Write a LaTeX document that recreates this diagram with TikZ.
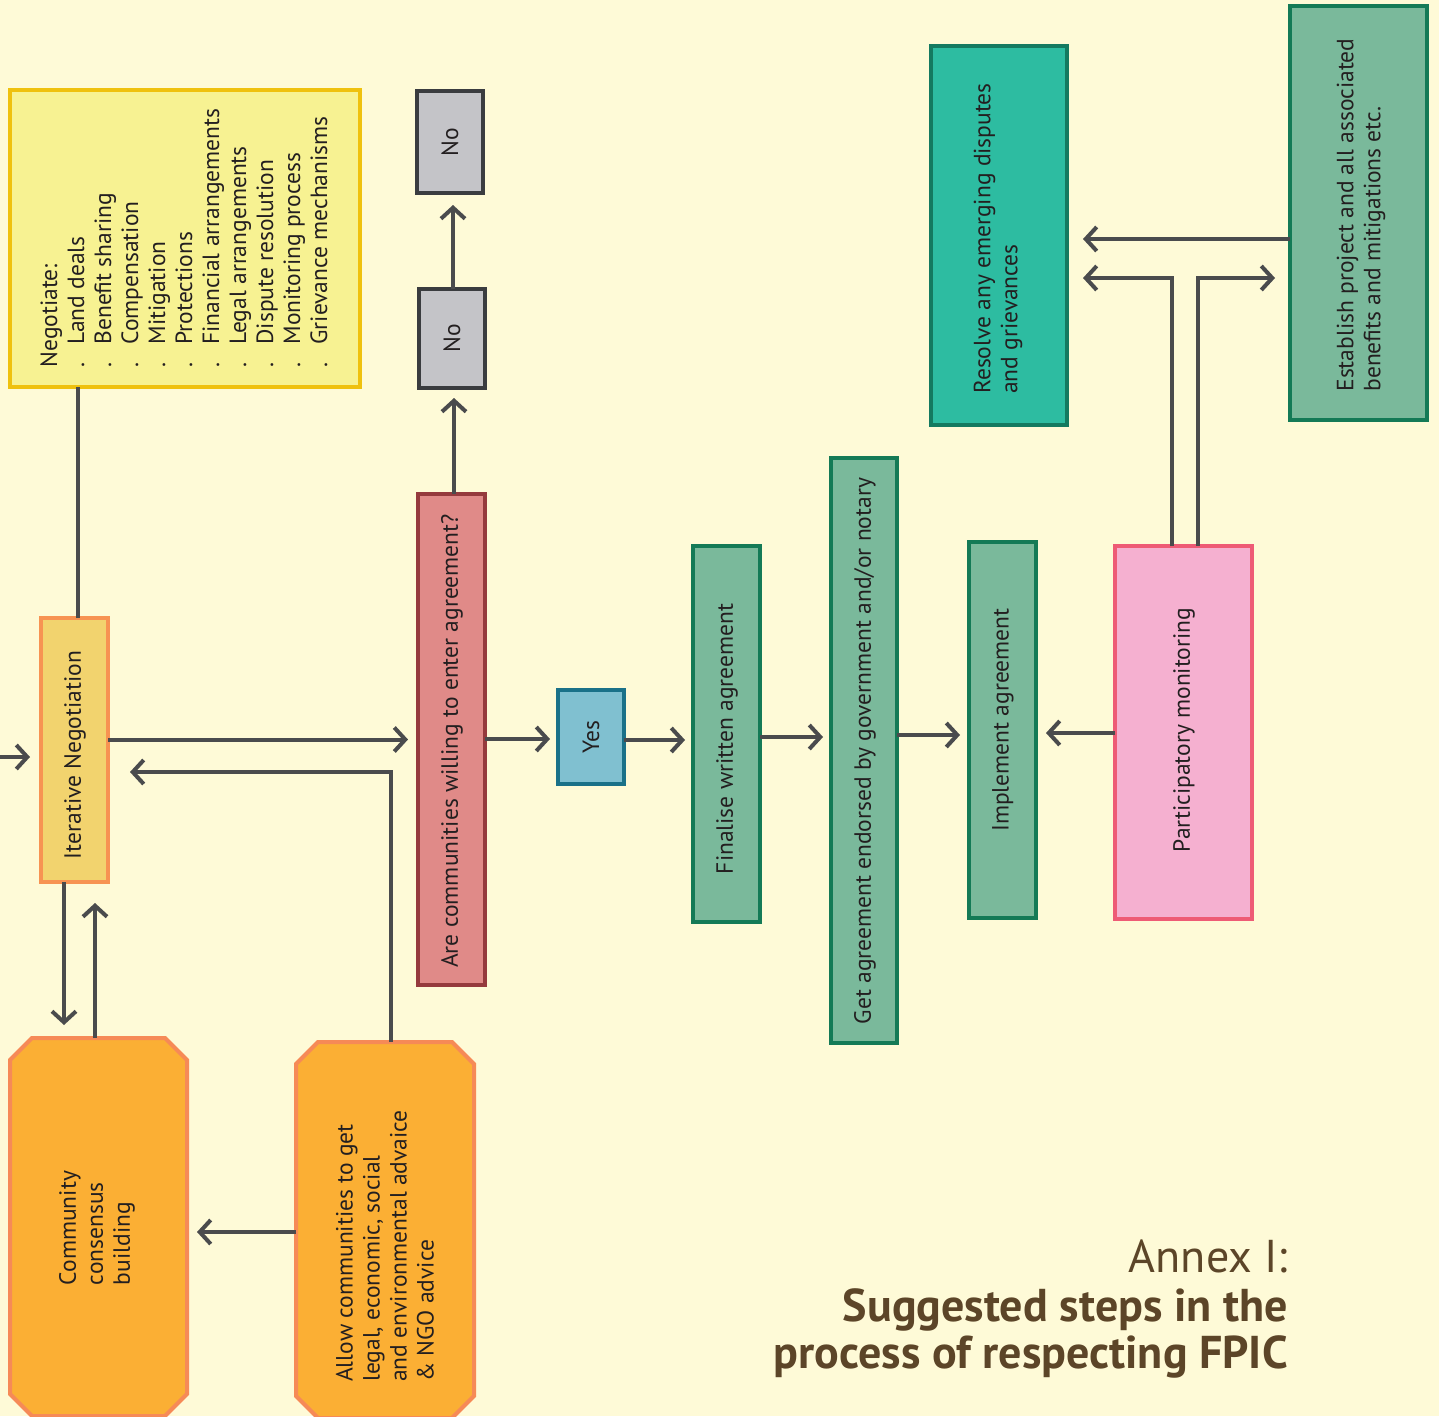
\documentclass[tikz,border=0pt]{standalone}
\usepackage{fontspec}
\setmainfont{PT Sans}
\usetikzlibrary{arrows.meta}
\definecolor{bg}{HTML}{FEFAD7}
\definecolor{linec}{HTML}{4A4B4D}
\definecolor{txtc}{HTML}{231F20}
\definecolor{negfill}{HTML}{F7F292}
\definecolor{negline}{HTML}{EFC10E}
\definecolor{itfill}{HTML}{F2D36E}
\definecolor{itline}{HTML}{F79352}
\definecolor{arefill}{HTML}{E08A88}
\definecolor{areline}{HTML}{953A3D}
\definecolor{nofill}{HTML}{C4C4C8}
\definecolor{noline}{HTML}{3A3C3F}
\definecolor{yesfill}{HTML}{80C0D0}
\definecolor{yesline}{HTML}{1A7188}
\definecolor{grfill}{HTML}{7AB99B}
\definecolor{grline}{HTML}{147A56}
\definecolor{resfill}{HTML}{2DBCA1}
\definecolor{resline}{HTML}{147A60}
\definecolor{pkfill}{HTML}{F5B0D0}
\definecolor{pkline}{HTML}{EE5B75}
\definecolor{orfill}{HTML}{FBAF34}
\definecolor{orline}{HTML}{F68A57}
\definecolor{titc}{HTML}{5C4528}
\newcommand\octpath[2]{%
  \filldraw[octst] ([xshift=#2]#1.north west) -- ([xshift=-#2]#1.north east)
   -- ([yshift=-#2]#1.north east) -- ([yshift=#2]#1.south east)
   -- ([xshift=-#2]#1.south east) -- ([xshift=#2]#1.south west)
   -- ([yshift=#2]#1.south west) -- ([yshift=-#2]#1.north west) -- cycle;}
\begin{document}
\begin{tikzpicture}[x=1pt,y=-1pt,
  box/.style={draw, line width=4pt, inner sep=0pt, outer sep=0pt},
  negbox/.style={box, fill=negfill, draw=negline},
  itbox/.style={box, fill=itfill, draw=itline},
  arebox/.style={box, fill=arefill, draw=areline},
  nobox/.style={box, fill=nofill, draw=noline},
  yesbox/.style={box, fill=yesfill, draw=yesline},
  grbox/.style={box, fill=grfill, draw=grline},
  resbox/.style={box, fill=resfill, draw=resline},
  pkbox/.style={box, fill=pkfill, draw=pkline},
  octholder/.style={inner sep=0pt, outer sep=0pt},
  octst/.style={fill=orfill, draw=orline, line width=4pt},
  txt/.style={rotate=90, font=\fontsize{23.5}{27}\selectfont, text=txtc, inner sep=0pt},
  conn/.style={draw=linec, line width=4pt, -{Straight Barb[length=11pt,width=24pt]}},
  plain/.style={draw=linec, line width=4pt},
  ttl/.style={anchor=base east, text=titc, inner sep=0pt, font=\fontsize{46}{48}\selectfont},
  ttlb/.style={ttl, font=\fontsize{46}{48}\selectfont\bfseries}
]
\useasboundingbox (0,0) rectangle (1439,1416);
\fill[bg] (0,0) rectangle (1439,1416);
\begin{scope}
\clip (0,0) rectangle (1439,1416);
% boxes
\node[negbox, minimum width=350pt, minimum height=297pt] (neg) at (185,238.5) {};
\node[nobox, minimum width=66pt, minimum height=102pt] (no2) at (450,142) {};
\node[nobox, minimum width=66pt, minimum height=99pt] (no1) at (452,338.5) {};
\node[arebox, minimum width=67pt, minimum height=491pt] (are) at (451.5,739.5) {};
\node[itbox, minimum width=67pt, minimum height=264pt] (iter) at (74.5,750) {};
\node[yesbox, minimum width=66pt, minimum height=94pt] (yes) at (591,737) {};
\node[grbox, minimum width=67pt, minimum height=376pt] (fin) at (726.5,734) {};
\node[grbox, minimum width=66pt, minimum height=585pt] (get) at (864,750.5) {};
\node[grbox, minimum width=67pt, minimum height=376pt] (imp) at (1002.5,730) {};
\node[pkbox, minimum width=137pt, minimum height=373pt] (part) at (1183.5,732.5) {};
\node[resbox, minimum width=136pt, minimum height=379pt] (res) at (999,235.5) {};
\node[grbox, minimum width=137pt, minimum height=414pt] (est) at (1358.5,213) {};
\node[octholder, minimum width=177pt, minimum height=378pt] (cc) at (98.5,1227) {};
\node[octholder, minimum width=178pt, minimum height=376pt] (allow) at (385,1230) {};
\octpath{cc}{22pt}
\octpath{allow}{22pt}
% texts
\node[txt, align=left] (tneg) at (184,238) {Negotiate:\\
\makebox[23pt][l]{.}Land deals\\
\makebox[23pt][l]{.}Benefit sharing\\
\makebox[23pt][l]{.}Compensation\\
\makebox[23pt][l]{.}Mitigation\\
\makebox[23pt][l]{.}Protections\\
\makebox[23pt][l]{.}Financial arrangements\\
\makebox[23pt][l]{.}Legal arrangements\\
\makebox[23pt][l]{.}Dispute resolution\\
\makebox[23pt][l]{.}Monitoring process\\
\makebox[23pt][l]{.}Grievance mechanisms};
\node[txt] (tno2) at (no2.center) {No};
\node[txt] (tno1) at (no1.center) {No};
\node[txt] (tare) at (452,741) {Are communities willing to enter agreement?};
\node[txt] (titer) at (75,755) {Iterative Negotiation};
\node[txt] (tyes) at (591,737) {Yes};
\node[txt] (tfin) at (727,739) {Finalise written agreement};
\node[txt] (tget) at (865,751) {Get agreement endorsed by government and/or notary};
\node[txt] (timp) at (1003,720) {Implement agreement};
\node[txt] (tpart) at (1184,730) {Participatory monitoring};
\node[txt, align=left] (tres) at (998,238.5) {Resolve any emerging disputes\\and grievances};
\node[txt, align=left] (test) at (1361,215) {Establish project and all associated\\benefits and mitigations etc.};
\node[txt, align=left] (tcc) at (97,1228) {Community\\consensus\\building};
\node[txt, align=left] (tallow) at (385,1246) {Allow communities to get\\legal, economic, social\\and environmental advaice\\\& NGO advice};
% connectors
\coordinate (ein) at (0,757);
\draw[conn, shorten >=11pt] (ein) -- (iter.west |- ein);
\draw[conn, shorten >=10pt] (iter.east |- are.west) -- (are.west);
\draw[conn, shorten >=22pt] (allow.north -| 391,0) |- (iter.east |- 0,772);
\draw[conn, shorten >=13pt] (iter.south -| 64,0) -- (cc.north -| 64,0);
\draw[conn, shorten >=21pt] (cc.north -| 95,0) -- (iter.south -| 95,0);
\draw[plain] (iter.north -| 78,0) -- (neg.south -| 78,0);
\draw[conn, shorten >=10pt] (are.north -| 454,0) -- (no1.south -| 454,0);
\draw[conn, shorten >=12pt] (no1.north -| 453,0) -- (no2.south -| 453,0);
\draw[conn, shorten >=8pt] (are.east |- 0,739) -- (yes.west |- 0,739);
\draw[conn, shorten >=8pt] (yes.east |- 0,740) -- (fin.west |- 0,740);
\draw[conn, shorten >=8pt] (fin.east |- 0,737) -- (get.west |- 0,737);
\draw[conn, shorten >=9pt] (get.east |- 0,735) -- (imp.west |- 0,735);
\draw[conn, shorten >=10pt] (part.west |- 0,733) -- (imp.east |- 0,733);
\draw[conn, shorten >=16pt] (est.west |- 0,239) -- (res.east |- 0,239);
\draw[conn, shorten >=16pt] (part.north -| 1172,0) |- (res.east |- 0,278);
\draw[conn, shorten >=15pt] (part.north -| 1198,0) |- (est.west |- 0,278);
\draw[conn, shorten >=10pt] (allow.west |- 0,1232) -- (cc.east |- 0,1232);
% title
\node[ttl] (ann) at (1288,1272) {Annex I:};
\node[ttlb] (sug) at (1288,1321) {Suggested steps in the};
\node[ttlb] (proc) at (1288,1368) {process of respecting FPIC};
\end{scope}
\end{tikzpicture}
\end{document}
